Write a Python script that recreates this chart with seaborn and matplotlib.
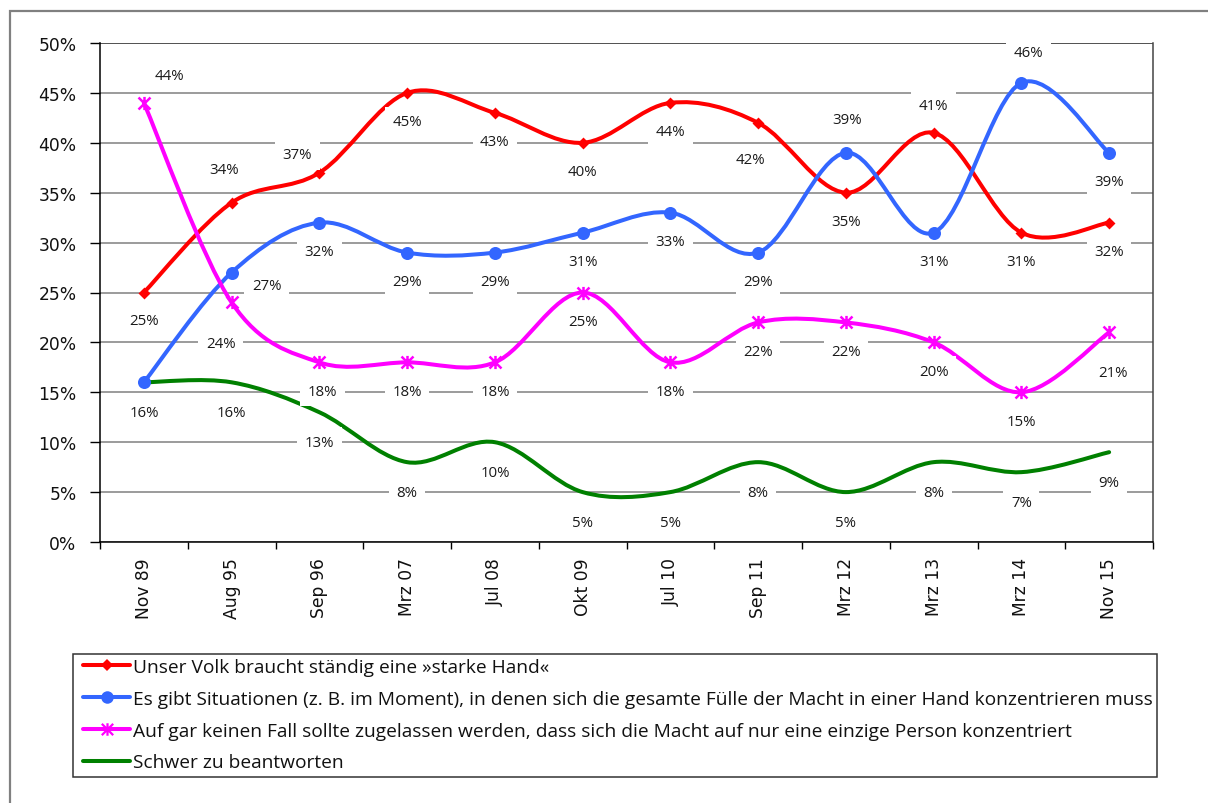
import numpy as np
import pandas as pd
import matplotlib
matplotlib.use("Agg")
import matplotlib.pyplot as plt
import seaborn as sns
from matplotlib.path import Path
from matplotlib.patches import PathPatch, Rectangle
from matplotlib.lines import Line2D
from matplotlib.ticker import FuncFormatter

# ---------------- data ----------------
categories = ["Nov 89", "Aug 95", "Sep 96", "Mrz 07", "Jul 08", "Okt 09",
              "Jul 10", "Sep 11", "Mrz 12", "Mrz 13", "Mrz 14", "Nov 15"]
starke_hand = [25, 34, 37, 45, 43, 40, 44, 42, 35, 41, 31, 32]
situationen = [16, 27, 32, 29, 29, 31, 33, 29, 39, 31, 46, 39]
keine_einzelperson = [44, 24, 18, 18, 18, 25, 18, 22, 22, 20, 15, 21]
schwer = [16, 16, 13, 8, 10, 5, 5, 8, 5, 8, 7, 9]
series_names = [
    "Unser Volk braucht ständig eine »starke Hand«",
    "Es gibt Situationen (z. B. im Moment), in denen sich die gesamte Fülle der Macht in einer Hand konzentrieren muss",
    "Auf gar keinen Fall sollte zugelassen werden, dass sich die Macht auf nur eine einzige Person konzentriert",
    "Schwer zu beantworten",
]

# ---------------- style ----------------
colors = ["#FF0000", "#3366FF", "#FF00FF", "#008000"]
asterisk = Path([(-0.5, -0.5), (0.5, 0.5), (-0.5, 0.5), (0.5, -0.5), (0, -0.55), (0, 0.55)],
                [Path.MOVETO, Path.LINETO, Path.MOVETO, Path.LINETO, Path.MOVETO, Path.LINETO])
markers = ["D", "o", asterisk, None]
marker_s = [37, 88, 90, 0]
# label offsets in pixels (dx, dy; dy positive = downward), default below the point
default_off = {0: (0, 29), 1: (0, 29), 2: (0, 29), 3: (0, 30)}
label_offsets = [
    {0: (0, 28), 1: (-8, -33), 2: (-22, -18), 7: (-8, 37), 9: (0, -27)},
    {0: (0, 30), 1: (35, 13), 8: (1, -33), 10: (7, -30)},
    {0: (26, -27), 1: (-11, 41), 2: (3, 29), 11: (4, 40)},
    {},
]

sns.set_theme(style="white")
plt.rcParams["font.family"] = ["DejaVu Sans"]

W, H = 1208, 804
fig = plt.figure(figsize=(W / 100, H / 100), dpi=100)
ax = fig.add_axes([100 / W, 1 - 543 / H, 1053 / W, 499 / H])

values = [starke_hand, situationen, keine_einzelperson, schwer]
x = np.arange(len(categories))
df = pd.concat([pd.DataFrame({"pos": x, "Anteil": v, "Antwort": n, "Umfrage": categories})
                for v, n in zip(values, series_names)], ignore_index=True)


def smooth_path(xs, ys):
    pts = np.column_stack([xs, ys]).astype(float)
    n = len(pts)
    verts = [pts[0]]
    codes = [Path.MOVETO]
    for i in range(n - 1):
        p0 = pts[max(i - 1, 0)]
        p1 = pts[i]
        p2 = pts[i + 1]
        p3 = pts[min(i + 2, n - 1)]
        verts += [p1 + (p2 - p0) / 6, p2 - (p3 - p1) / 6, p2]
        codes += [Path.CURVE4] * 3
    return Path(verts, codes)


for k, name in enumerate(series_names):
    sub = df[df["Antwort"] == name]
    patch = PathPatch(smooth_path(sub["pos"], sub["Anteil"]), fill=False,
                      edgecolor=colors[k], lw=2.9, zorder=2, capstyle="round", joinstyle="round")
    ax.add_patch(patch)
    if markers[k] is not None:
        if markers[k] is asterisk:
            sns.scatterplot(data=sub, x="pos", y="Anteil", marker=markers[k], s=marker_s[k],
                            color=colors[k], edgecolor=colors[k], linewidth=1.8, ax=ax,
                            zorder=3, legend=False)
        else:
            sns.scatterplot(data=sub, x="pos", y="Anteil", marker=markers[k], s=marker_s[k],
                            color=colors[k], edgecolor=colors[k], linewidth=0, ax=ax,
                            zorder=3, legend=False)
    for i, (px, py) in enumerate(zip(sub["pos"], sub["Anteil"])):
        dx, dy = label_offsets[k].get(i, default_off[k])
        ax.annotate(f"{py}%", xy=(px, py), xytext=(dx, -dy), textcoords="offset pixels",
                    ha="center", va="center", fontsize=10.8, family=["Open Sans", "DejaVu Sans"],
                    color="#1a1a1a", zorder=6,
                    bbox=dict(boxstyle="square,pad=0.5", fc="white", ec="none"))

ax.set_xlim(-0.5, len(categories) - 0.5)
ax.set_ylim(0, 50)
ax.set_xlabel("")
ax.set_ylabel("")
ax.set_yticks(np.arange(0, 51, 5))
ax.yaxis.set_major_formatter(FuncFormatter(lambda v, p: f"{int(v)}%"))
ax.set_xticks(x)
ax.set_xticklabels(categories, rotation=90)
ax.set_xticks(np.arange(-0.5, len(categories), 1), minor=True)
ax.tick_params(axis="y", which="major", left=True, direction="out", length=7, width=1,
               color="black", pad=10, labelsize=12.3, labelcolor="#111111")
ax.tick_params(axis="x", which="major", bottom=True, length=0, pad=10.8,
               labelsize=12.3, labelcolor="#111111")
ax.tick_params(axis="x", which="minor", bottom=True, direction="out", length=5, width=1,
               color="black")

ax.set_axisbelow(True)
ax.yaxis.grid(True, color="#808080", lw=1.1)
ax.xaxis.grid(False)
fig.canvas.draw()
gl = ax.yaxis.get_gridlines()
gl[-1].set_color("#222222")
for s in ["left", "bottom"]:
    ax.spines[s].set_color("black")
    ax.spines[s].set_linewidth(1.1)
ax.spines["top"].set_visible(False)
ax.spines["right"].set_color("#444444")
ax.spines["right"].set_linewidth(1.1)

# ---------------- legend ----------------
renderer = fig.canvas.get_renderer()
leg_family = ["Open Sans", "DejaVu Sans"]
probe = fig.text(0, 0, series_names[1], fontsize=14, family=leg_family)
w = probe.get_window_extent(renderer).width
probe.remove()
leg_fs = 14 * 1023 / w
fs_px = leg_fs / 72 * 100

handles = []
for k, name in enumerate(series_names):
    mk = markers[k] if markers[k] is not None else "None"
    ms = {0: 6.3, 1: 9.0, 2: 9.0, 3: 0}[k]
    handles.append(Line2D([], [], color=colors[k], lw=2.9, marker=mk, markersize=ms,
                          markeredgewidth=1.6 if k == 2 else 0, markerfacecolor=colors[k],
                          markeredgecolor=colors[k]))
leg = fig.legend(handles, series_names, loc="upper left",
                 bbox_to_anchor=(83 / W, 1 - 659 / H), frameon=False, borderpad=0,
                 borderaxespad=0, handlelength=47 / fs_px, handletextpad=3 / fs_px,
                 labelspacing=0.45 + 5.2 / fs_px, prop={"family": leg_family, "size": leg_fs})
for t in leg.get_texts():
    t.set_color("#111111")
fig.canvas.draw()
bb = leg.get_window_extent(renderer)
fig.add_artist(Rectangle((bb.x0 - 10, bb.y0 - 6), bb.width + 14, bb.height + 10,
                         transform=None, fill=False, ec="#333333", lw=1.1))

# outer chart frame
fig.add_artist(Rectangle((10 / W, -0.5), 2, 0.5 + (H - 12) / H, transform=fig.transFigure,
                         fill=False, ec="#808080", lw=1.6))

fig.savefig("out.png", dpi=100)
